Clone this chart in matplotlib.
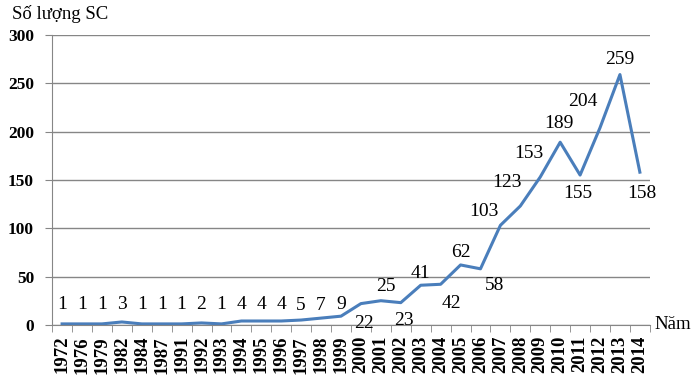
import numpy as np
import matplotlib.pyplot as plt

plt.rcParams['font.family'] = ['Liberation Serif', 'DejaVu Serif']

nam = ['1972', '1976', '1979', '1982', '1984', '1987', '1991', '1992', '1993',
       '1994', '1995', '1996', '1997', '1998', '1999', '2000', '2001', '2002',
       '2003', '2004', '2005', '2006', '2007', '2008', '2009', '2010', '2011',
       '2012', '2013', '2014']
so_luong = [1, 1, 1, 3, 1, 1, 1, 2, 1, 4, 4, 4, 5, 7, 9, 22, 25, 23, 41, 42,
            62, 58, 103, 123, 153, 189, 155, 204, 259, 158]

# label offsets in pixels (dx, dy)
lech = [(0, 19), (0, 19), (0, 19), (0, 17), (0, 19), (0, 19), (0, 19), (0, 18),
        (0, 19), (0, 16), (0, 16), (0, 16), (0, 15), (0, 13), (0, 12),
        (3, -20), (5, 14), (3, -18), (0, 12), (11, -19), (0, 12), (14, -17),
        (-16, 14), (-13, 23), (-11, 24), (-1, 19), (-2, -18), (-17, 26),
        (0, 15), (2, -21)]

fig = plt.figure(figsize=(6.95, 3.84), dpi=100)
ax = fig.add_axes([0.075, 0.154, 0.86, 0.755])

x = np.arange(len(nam))
ax.plot(x, so_luong, color='#4A7EBB', linewidth=2.2)

for i, v in enumerate(so_luong):
    dx, dy = lech[i]
    ax.annotate(str(v), (x[i], v), xytext=(dx, dy), textcoords='offset pixels',
                ha='center', va='center', fontsize=14)

ax.set_xlim(-0.5, len(nam) - 0.5)
ax.set_ylim(0, 300)
ax.set_yticks(np.arange(0, 301, 50))
ax.yaxis.grid(True, color='#868686', linewidth=1)
ax.set_axisbelow(True)
ax.set_xticks(x)
ax.set_xticklabels(nam, rotation=90, fontweight='bold', fontsize=13.5)
ax.tick_params(axis='x', length=0, pad=8)
ax.set_xticks(np.arange(-0.5, len(nam), 1), minor=True)
ax.tick_params(axis='x', which='minor', length=5, color='#868686')
ax.tick_params(axis='y', length=5, color='#868686', labelsize=12.5, pad=8)
for t in ax.get_yticklabels():
    t.set_fontweight('bold')

for s in ['top', 'right']:
    ax.spines[s].set_visible(False)
ax.spines['left'].set_color('#868686')
ax.spines['bottom'].set_color('#868686')

fig.text(0.017, 0.963, 'Số lượng SC', fontsize=13.5, va='center')
fig.text(0.942, 0.154, 'Năm', fontsize=13.5, va='center')

plt.savefig('out.png')
